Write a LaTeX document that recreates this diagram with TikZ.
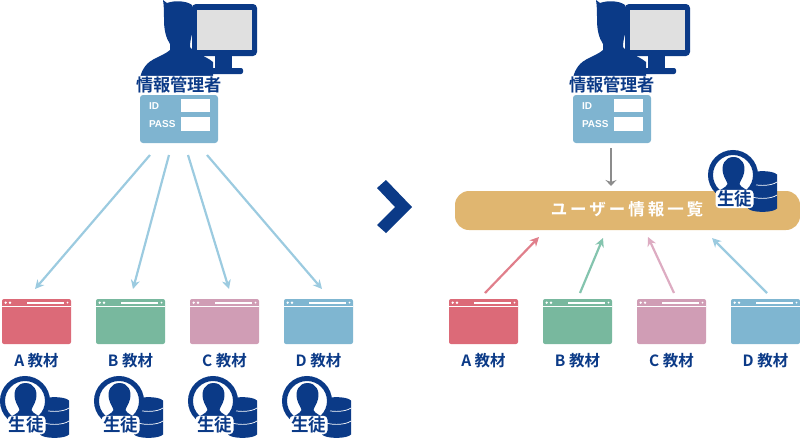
\documentclass[tikz,border=0pt]{standalone}
\usepackage{fontspec}
\newfontfamily\jpfont{Noto Sans CJK JP}[BoldFont={* Bold}]
\newfontfamily\cardfont{Liberation Sans}
\usetikzlibrary{positioning, arrows.meta}
\definecolor{navy}{HTML}{0B3A87}
\definecolor{cardblue}{HTML}{7FB4D0}
\definecolor{linkblue}{HTML}{9CCBE0}
\definecolor{linkred}{HTML}{E07F8B}
\definecolor{linkgreen}{HTML}{84C4AE}
\definecolor{linkpink}{HTML}{DDACC2}
\definecolor{matred}{HTML}{DC6A78}
\definecolor{matgreen}{HTML}{78B89E}
\definecolor{matpink}{HTML}{D09DB5}
\definecolor{matblue}{HTML}{7FB6D1}
\definecolor{listbar}{HTML}{E0B670}
\tikzset{
	x=1pt, y=-1pt,
	>={Stealth[length=9pt,width=9pt]},
	every node/.style={inner sep=0pt, outer sep=0pt},
	link/.style={->, line width=2.2pt},
	mattext/.style={navy, font=\jpfont\bfseries\fontsize{15.5}{15.5}\selectfont},
	cardtext/.style={white, anchor=west, font=\cardfont\bfseries\fontsize{10}{10}\selectfont},
	halo/.style={fill=white, rounded corners=4pt, text=navy}
}
% #1 name, #2 left, #3 top
\newcommand{\admin}[3]{
	\begin{scope}[shift={(#2,#3)}]
		\fill[navy, rounded corners=4pt] (52,4) rectangle (117,56);
		\fill[navy] (75,56) rectangle (92,68);
		\fill[navy, rounded corners=2pt] (68,68) rectangle (103,74);
		\fill[black!12] (57,10) rectangle (112,50);
		\fill[navy] (23,0) -- (27,3) .. controls (35,0) and (47,1) .. (52,5) .. controls (55,12) and (55,26) .. (52,34) .. controls (51,38) and (50,42) .. (50,47) .. controls (54,53) and (66,56) .. (73,62) -- (73,78) -- (0,78) .. controls (2,68) and (8,62) .. (14,59) .. controls (20,56) and (27,53) .. (30,50) -- (30,44) .. controls (26,38) and (24,30) .. (24,20) .. controls (24,12) and (24,6) .. (23,0) -- cycle;
		\node[fill=cardblue, rounded corners=3pt, minimum width=78pt, minimum height=48pt] (#1card) at (39,119) {};
		\node[halo, font=\jpfont\bfseries\fontsize{17.2}{17.2}\selectfont, inner xsep=1pt, inner ysep=1pt] (#1name) at (39,85) {情報管理者};
		\node[cardtext] (#1id) at (9,106.5) {ID};
		\node[cardtext] (#1pass) at (9,124.3) {PASS};
		\node[fill=white, minimum width=29pt, minimum height=13.5pt] (#1idbox) at (55.5,105.7) {};
		\node[fill=white, minimum width=29pt, minimum height=14.5pt] (#1passbox) at (55.5,123.8) {};
	\end{scope}
}
% #1 name, #2 left, #3 top, #4 colour, #5 label
\newcommand{\material}[5]{
	\node[fill=#4, rounded corners=2pt, minimum width=69pt, minimum height=45pt, anchor=north west] (#1) at (#2,#3) {};
	\fill[white] (#2,#3+7) rectangle (#2+69,#3+7.8);
	\fill[white] (#2+25,#3+2.7) rectangle (#2+62,#3+4.7);
	\fill[white] (#2+3.7,#3+3.7) circle (1.3) (#2+8,#3+3.7) circle (1.3) (#2+65.5,#3+3.7) circle (1);
	\node[mattext, below=9.5pt of #1] (#1text) {#5};
}
% #1 name, #2 left, #3 top
\newcommand{\student}[3]{
	\begin{scope}[shift={(#2,#3)}]
		\fill[navy] (40,24.5) -- (40,58.5) .. controls (44,63) and (65,63) .. (69,58.5) -- (69,24.5) .. controls (65,20) and (44,20) .. (40,24.5) -- cycle;
		\draw[white, line width=.7pt] (40,32) .. controls (46,36.5) and (63,36.5) .. (69,32)
			(40,45) .. controls (46,49.5) and (63,49.5) .. (69,45);
		\fill[white, draw=navy, line width=5pt] (25,25) circle (22.5);
		\fill[navy] (25.5,7) .. controls (34,7) and (38,15) .. (36,23) .. controls (35,28) and (32,31) .. (31.5,34) .. controls (33,38) and (39,39) .. (43,43) -- (8,43) .. controls (12,39) and (18,38) .. (19.5,34) .. controls (19,31) and (16,28) .. (15,23) .. controls (13,15) and (17,7) .. (25.5,7) -- cycle;
		\node[halo, font=\jpfont\bfseries\fontsize{17.5}{17.5}\selectfont, inner xsep=1.5pt, inner ysep=1pt] (#1) at (26.5,49) {生徒};
	\end{scope}
}
\begin{document}
\begin{tikzpicture}
	\useasboundingbox (0,0) rectangle (800,440);

	\admin{l}{140}{0}
	\admin{r}{573}{0}

	\material{la}{2}{299}{matred}{A 教材}
	\material{lb}{96}{299}{matgreen}{B 教材}
	\material{lc}{190}{299}{matpink}{C 教材}
	\material{ld}{284}{299}{matblue}{D 教材}

	\student{sa}{0}{376}
	\student{sb}{94}{376}
	\student{sc}{188}{376}
	\student{sd}{282}{376}

	\material{ra}{449}{299}{matred}{A 教材}
	\material{rb}{543}{299}{matgreen}{B 教材}
	\material{rc}{637}{299}{matpink}{C 教材}
	\material{rd}{731}{299}{matblue}{D 教材}

	\node[fill=listbar, rounded corners=14pt, minimum width=345pt, minimum height=39pt, anchor=north west] (list) at (455,191) {};
	\node[white, font=\jpfont\bfseries\fontsize{16.5}{16.5}\selectfont\addfontfeatures{LetterSpace=18}] (listtext) at (627,209) {ユーザー情報一覧};
	\student{sl}{708}{150}

	\fill[navy] (377,188) -- (386,180) -- (412,207) -- (386,233) -- (377,225) -- (395,207) -- cycle;

	% free ends of the connectors
	\coordinate (o1) at (150,155); \coordinate (t1) at (35,289);
	\coordinate (o2) at (169,155); \coordinate (t2) at (133,289);
	\coordinate (o3) at (188,155); \coordinate (t3) at (229,289);
	\coordinate (o4) at (207,155); \coordinate (t4) at (322,289);
	\coordinate (o5) at (611,148); \coordinate (t5) at (611,186);
	\coordinate (o6) at (485,293); \coordinate (t6) at (539,237);
	\coordinate (o7) at (580,293); \coordinate (t7) at (603,238);
	\coordinate (o8) at (674,293); \coordinate (t8) at (648,237);
	\coordinate (o9) at (767,293); \coordinate (t9) at (712,238);

	\draw[link, linkblue] (o1) -- (t1);
	\draw[link, linkblue] (o2) -- (t2);
	\draw[link, linkblue] (o3) -- (t3);
	\draw[link, linkblue] (o4) -- (t4);
	\draw[-{Stealth[length=6pt,width=11pt]}, line width=1.1pt, black!45] (o5) -- (t5);
	\draw[link, linkred] (o6) -- (t6);
	\draw[link, linkgreen] (o7) -- (t7);
	\draw[link, linkpink] (o8) -- (t8);
	\draw[link, linkblue] (o9) -- (t9);
\end{tikzpicture}
\end{document}
